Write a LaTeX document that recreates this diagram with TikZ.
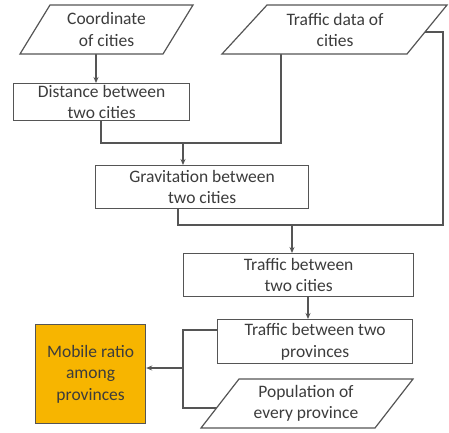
\documentclass[tikz,border=0pt]{standalone}
\usepackage{fontspec}
\setmainfont{Carlito}
\usetikzlibrary{arrows.meta,calc}
\definecolor{ln}{HTML}{555555}
\definecolor{tx}{HTML}{3C3C3C}
\definecolor{gold}{HTML}{F7B500}
\begin{document}
\begin{tikzpicture}[x=1pt,y=-1pt,
  every node/.style={font=\fontsize{17.5}{21.5}\selectfont, text=tx, align=center},
  shp/.style={draw=ln, line width=1.2pt, fill=white},
  proc/.style={shp, inner sep=0pt, anchor=north west},
  con/.style={draw=ln, line width=1.2pt},
  arr/.style={con, -{Stealth[length=6pt,width=5pt]}}]
\useasboundingbox (0,0) rectangle (449,432);

% parallelogram corners
\coordinate (p1a) at (50,5);  \coordinate (p1b) at (193,5);
\coordinate (p1c) at (163,54); \coordinate (p1d) at (20,54);
\coordinate (p2a) at (267,5);  \coordinate (p2b) at (447,5);
\coordinate (p2c) at (407,54); \coordinate (p2d) at (222,54);
\coordinate (p3a) at (239,379); \coordinate (p3b) at (413,379);
\coordinate (p3c) at (375,428); \coordinate (p3d) at (201,428);

% process boxes
\node[proc, minimum width=176pt, minimum height=37pt] (dist) at (13,83) {Distance between\\two cities};
\node[proc, minimum width=213pt, minimum height=43pt] (grav) at (95,165) {Gravitation between\\two cities};
\node[proc, minimum width=230pt, minimum height=43pt] (tcity) at (183,253) {Traffic between\\two cities};
\node[proc, minimum width=195pt, minimum height=44pt] (tprov) at (217,319) {Traffic between two\\provinces};
\node[proc, fill=gold, minimum width=110pt, minimum height=99pt] (mob) at (35,324) {Mobile ratio\\among\\provinces};

% connector anchor points
\coordinate (j1) at (96,54);
\coordinate (j2) at (101,143);
\coordinate (j3) at (281,143);
\coordinate (j4) at (183,143);
\coordinate (j5) at (178,225);
\coordinate (j6) at (443,225);
\coordinate (j7) at ($(p2b)!0.55!(p2c)$);
\coordinate (j8) at (292,225);
\coordinate (j9) at (308,296);
\coordinate (k1) at (183,330);
\coordinate (k2) at (183,368);
\coordinate (k3) at ($(p3d)!0.41!(p3a)$);

% connectors
\draw[arr] (j1) -- (j1 |- dist.north);
\draw[con] (j2 |- dist.south) -- (j2) -- (j3) -- (j3 |- p2d);
\draw[arr] (j4) -- (j4 |- grav.north);
\draw[con] (j5 |- grav.south) -- (j5) -- (j6) -- (j6 |- j7) -- (j7);
\draw[arr] (j8) -- (j8 |- tcity.north);
\draw[arr] (j9) -- (j9 |- tprov.north);
\draw[con] (k1 -| tprov.west) -- (k1) -- (k1 |- k3) -- (k3);
\draw[arr] (k2) -- (k2 -| mob.east);

% parallelograms
\draw[shp] (p1a) -- (p1b) -- (p1c) -- (p1d) -- cycle;
\node (coord) at (106.5,29.5) {Coordinate\\of cities};
\draw[shp] (p2a) -- (p2b) -- (p2c) -- (p2d) -- cycle;
\node (tdata) at (335,30) {Traffic data of\\cities};
\draw[shp] (p3a) -- (p3b) -- (p3c) -- (p3d) -- cycle;
\node (pop) at (306,403.5) {Population of\\every province};
\end{tikzpicture}
\end{document}
